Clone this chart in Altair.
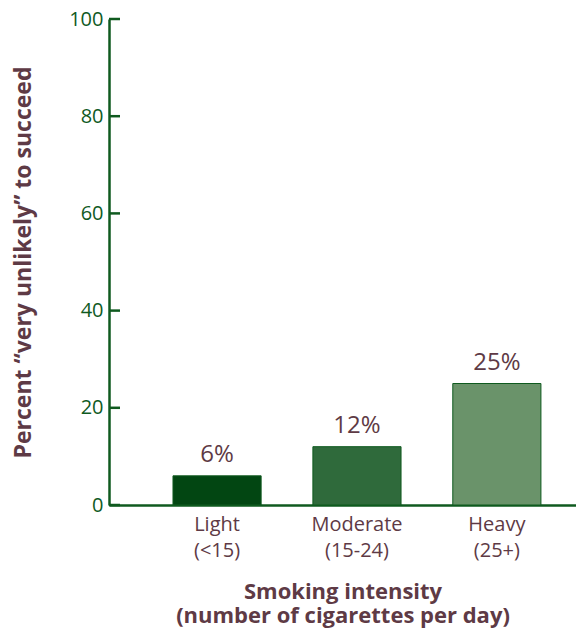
import altair as alt
import pandas as pd

categories = ["Light\n(<15)", "Moderate\n(15-24)", "Heavy\n(25+)"]
values = [6, 12, 25]
labels = ["6%", "12%", "25%"]
colors = ["#024612", "#2f6a3b", "#6a936a"]
y_ticks = [0, 20, 40, 60, 80, 100]

df = pd.DataFrame({"cat": categories, "val": values, "lab": labels, "col": colors})
ticks_df = pd.DataFrame({"t": y_ticks})

GREEN = "#0f5a1f"
MAROON = "#5e3a45"
FONT = "Open Sans"

x_enc = alt.X(
    "cat:N",
    sort=categories,
    scale=alt.Scale(paddingInner=0.37, paddingOuter=0.354, align=0.646),
    axis=alt.Axis(
        title=["Smoking intensity", "(number of cigarettes per day)"],
        titleFont=FONT, titleFontSize=22, titleFontWeight="bold", titleColor=MAROON,
        titlePadding=21, titleLineHeight=24,
        labelExpr="split(datum.label, '\\n')",
        labelFont=FONT, labelFontSize=20, labelColor=MAROON, labelLineHeight=26,
        labelAngle=0, labelPadding=9,
        ticks=False, domainColor=GREEN, domainWidth=2.5,
    ),
)
y_scale = alt.Scale(domain=[0, 100])

bars = alt.Chart(df).mark_bar(stroke=GREEN, strokeWidth=1).encode(
    x=x_enc,
    y=alt.Y(
        "val:Q", scale=y_scale,
        axis=alt.Axis(
            values=y_ticks, title="Percent “very unlikely” to succeed",
            titleFont=FONT, titleFontSize=23, titleFontWeight="bold", titleColor=MAROON,
            titlePadding=33,
            labelFont=FONT, labelFontSize=20, labelColor=GREEN, labelPadding=6,
            ticks=False, grid=False, domainColor=GREEN, domainWidth=2.5,
        ),
    ),
    color=alt.Color("col:N", scale=None),
)

text = alt.Chart(df).mark_text(
    dy=-9, baseline="bottom", font=FONT, fontSize=24, color=MAROON
).encode(
    x=alt.X("cat:N", sort=categories),
    y=alt.Y("val:Q", scale=y_scale),
    text="lab:N",
)

tick_marks = alt.Chart(ticks_df).mark_rule(color=GREEN, strokeWidth=2.5).encode(
    y=alt.Y("t:Q", scale=y_scale),
    x=alt.value(0),
    x2=alt.value(11),
)

chart = alt.layer(bars, text, tick_marks).properties(
    width=467, height=486,
    autosize=alt.AutoSizeParams(type="none"),
    padding={"left": 101, "top": 11, "right": 0, "bottom": 127},
).configure_view(stroke=None)

chart.save("out.html", embed_options={"renderer": "svg", "actions": False})
